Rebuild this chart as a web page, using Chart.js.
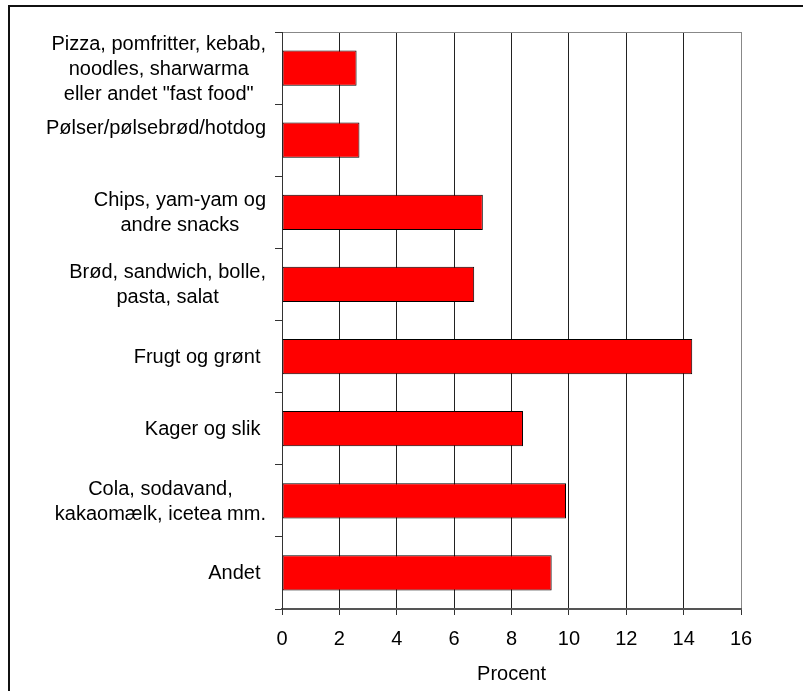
<!DOCTYPE html>
<html>
<head>
<meta charset="utf-8">
<script src="https://cdn.jsdelivr.net/npm/chart.js@4.4.0/dist/chart.umd.min.js"></script>
<style>
    body { margin: 0; background: #fff; }
    #wrap { position: relative; width: 803px; height: 691px; overflow: hidden; }
    #frame { position: absolute; left: 8px; top: 5px; width: 900px; height: 800px;
             border-left: 2px solid #111; border-top: 2px solid #111; }
    canvas { position: absolute; left: 0; top: 0; }
</style>
</head>
<body>
<div id="wrap">
    <div id="frame"></div>
    <canvas id="myChart" width="803" height="691"></canvas>
</div>
<script>
const categories = [
    ["Pizza, pomfritter, kebab,", "noodles, sharwarma", "eller andet \"fast food\""],
    ["Pølser/pølsebrød/hotdog", ""],
    ["Chips, yam-yam og", "andre snacks"],
    ["Brød, sandwich, bolle,", "pasta, salat"],
    "Frugt og grønt ",
    "Kager og slik ",
    ["Cola, sodavand,", "kakaomælk, icetea mm."],
    "Andet "
]
const procent = [2.6, 2.7, 7.0, 6.7, 14.3, 8.4, 9.9, 9.4]
const xTicks = [0, 2, 4, 6, 8, 10, 12, 14, 16]
const xTitle = "Procent"

const FONT = '"Liberation Sans", Arial, sans-serif'

// category labels: each label is a centred block, right edge near the axis
const categoryLabels = {
    id: 'categoryLabels',
    afterDraw(chart) {
        const ctx = chart.ctx
        const yScale = chart.scales.y
        const right = yScale.right - 16
        ctx.save()
        ctx.font = '20px ' + FONT
        ctx.fillStyle = '#000'
        ctx.textAlign = 'center'
        ctx.textBaseline = 'middle'
        chart.data.labels.forEach((label, i) => {
            const lines = Array.isArray(label) ? label : [label]
            const widest = Math.max(...lines.map(l => ctx.measureText(l).width))
            const cx = right - widest / 2
            const cy = yScale.getPixelForValue(i)
            lines.forEach((line, j) => {
                ctx.fillText(line, cx, cy + (j - (lines.length - 1) / 2) * 25 + 1)
            })
        })
        ctx.restore()
    }
}

const ctx = document.getElementById('myChart').getContext('2d')
const myChart = new Chart(ctx, {
    type: 'bar',
    data: {
        labels: categories,
        datasets: [{
            data: procent,
            backgroundColor: '#ff0000',
            borderColor: '#000',
            borderWidth: 1,
            borderSkipped: false,
            barPercentage: 0.49,
            categoryPercentage: 1
        }]
    },
    options: {
        indexAxis: 'y',
        responsive: false,
        animation: false,
        devicePixelRatio: 1,
        layout: { padding: { top: 24, right: 62, left: 0, bottom: 0 } },
        plugins: {
            legend: { display: false },
            tooltip: { enabled: false }
        },
        scales: {
            x: {
                min: xTicks[0],
                max: xTicks[xTicks.length - 1],
                afterBuildTicks: s => { s.ticks = xTicks.map(v => ({ value: v })) },
                afterFit: s => { s.height = 82 },
                grid: {
                    color: c => c.tick && c.tick.value === 16 ? '#888' : '#222',
                    lineWidth: 1,
                    tickLength: 6,
                    tickColor: '#333'
                },
                border: { color: '#555', width: 2 },
                ticks: {
                    color: '#000',
                    padding: 12,
                    font: { family: FONT, size: 20 }
                },
                title: {
                    display: true,
                    text: xTitle,
                    color: '#000',
                    font: { family: FONT, size: 20 },
                    padding: { top: 4, bottom: 5 }
                }
            },
            x2: {
                position: 'top',
                min: xTicks[0],
                max: xTicks[xTicks.length - 1],
                grid: { display: false },
                ticks: { display: false },
                border: { color: '#888', width: 1 }
            },
            y: {
                afterFit: s => { s.width = 282 },
                grid: {
                    drawOnChartArea: false,
                    tickLength: 7,
                    color: '#333'
                },
                border: { color: '#333', width: 1 },
                ticks: { display: false }
            }
        }
    },
    plugins: [categoryLabels]
})
</script>
</body>
</html>
